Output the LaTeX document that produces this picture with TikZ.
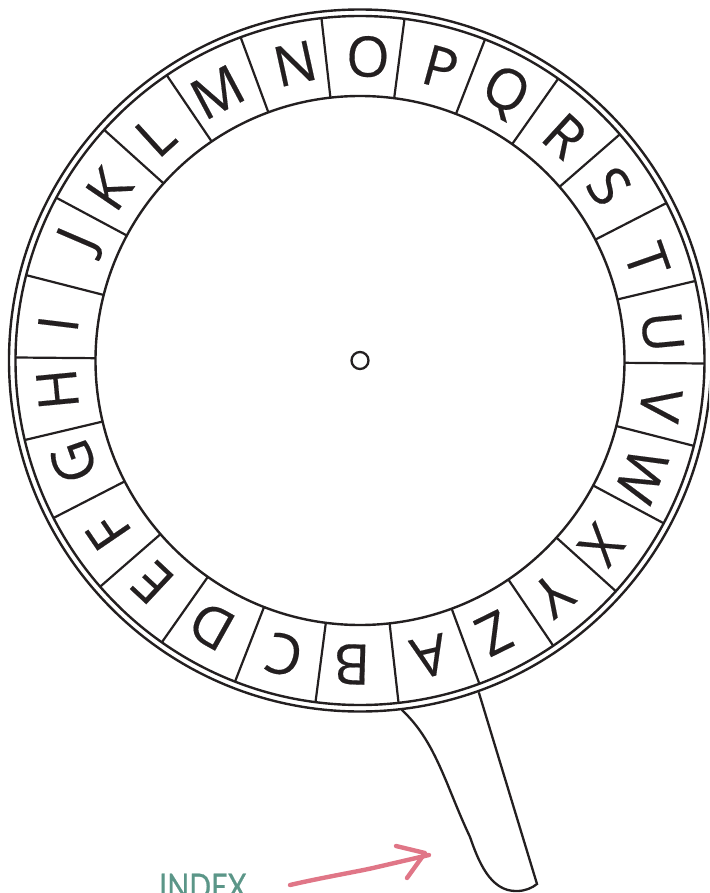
\documentclass[tikz,border=0pt]{standalone}
\usepackage{fontspec}
\usetikzlibrary{calc}
\setmainfont{Open Sans}
\newfontfamily\glyphfont[FakeBold=0.3]{Open Sans}
\newfontfamily\idxfont[FakeBold=0.6]{Lato}
\definecolor{ink}{HTML}{231F20}
\definecolor{pinkarrow}{HTML}{E07687}
\definecolor{idxgreen}{HTML}{5B9688}
\tikzset{
  ring/.style={draw=ink,line width=2.4pt},
  divider/.style={draw=ink,line width=2.2pt},
  glyph/.style={text=ink,inner sep=0pt,font=\glyphfont\fontsize{56}{56}\selectfont},
  handle/.style={draw=ink,line width=2.3pt,line cap=round},
  pointer/.style={draw=pinkarrow,line width=4.4pt,line cap=round,line join=round}
}
\begin{document}
\begin{tikzpicture}[x=1pt,y=-1pt]
\useasboundingbox (0,0) rectangle (709,893);
\clip (0,0) rectangle (709,893);
\coordinate (c) at (360,360.5);
\draw[handle] (402,710) .. controls (423,730) and (434,752) .. (447,783)
  .. controls (456,805) and (462,820) .. (470,837)
  .. controls (478,860) and (490,892) .. (517,891)
  .. controls (525,891) and (532,888) .. (537,884) -- (479,693);
\node[circle,draw=ink,line width=2.3pt,fill=white,minimum size=17pt,inner sep=0pt] (hub) at (c) {};
\draw[ring] (c) circle[radius=351];
\draw[ring] (c) circle[radius=344.5];
\draw[ring] (c) circle[radius=264.5];
\foreach \k in {0,...,25}{
  \pgfmathsetmacro\a{\k*360/26-0.5}
  \draw[divider] ($(c)+(\a:264.5 and -264.5)$) -- ($(c)+(\a:344.5 and -344.5)$);
}
\foreach \ch/\off [count=\i from 0] in {O/0,P/0,Q/0.8,R/0.7,S/1.9,T/0,U/0,V/0,W/0,X/-1.3,Y/-0.6,Z/0,A/0.9,B/0,C/0.9,D/0,E/0,F/1.2,G/0.2,H/0,I/1.5,J/-1,K/1.8,L/2.3,M/1.8,N/0}{
  \pgfmathsetmacro\a{88.5-\i*360/26+\off}
  \node[glyph,rotate=\a-90] (L\ch) at ($(c)+(\a:304 and -304)$) {\ch};
}
\node[anchor=base west,inner sep=0pt,text=idxgreen,xscale=0.8,font=\idxfont\fontsize{36}{36}\selectfont] (index) at (159,899.5) {INDEX};
\coordinate (tail) at (290,885);
\coordinate (tip) at (429,855);
\coordinate (barbA) at (396,846);
\coordinate (barbB) at (407,878);
\draw[pointer] (tail) .. controls (320,878) and (355,872) .. (373,868) -- (tip);
\draw[pointer] (barbA) -- (425,853) -- (barbB);
\end{tikzpicture}
\end{document}
